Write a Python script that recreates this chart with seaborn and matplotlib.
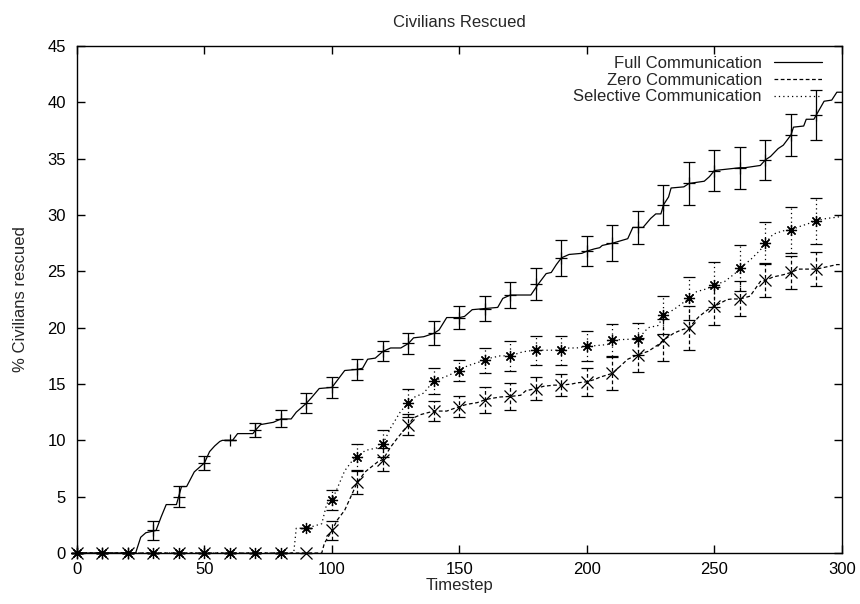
import matplotlib
matplotlib.use("Agg")
import matplotlib.pyplot as plt
import seaborn as sns

# step curves (timestep, % civilians rescued)
full_t = [0, 23, 25, 27, 31, 33, 35, 39, 41, 43, 46, 48, 50, 52, 54, 56, 57, 61, 62, 63, 69, 70,
          72, 77, 80, 84, 86, 87, 90, 92, 95, 100, 102, 105, 110, 112, 114, 117, 120, 123, 127,
          130, 132, 136, 140, 142, 145, 150, 152, 155, 160, 165, 167, 170, 178, 181, 184, 186,
          188, 190, 193, 198, 200, 203, 205, 206, 210, 216, 218, 222, 225, 227, 229, 230, 232,
          233, 238, 240, 246, 248, 250, 260, 262, 268, 270, 272, 275, 277, 280, 281, 285, 286,
          289, 290, 293, 296, 298, 300]
full_v = [0, 0, 1.4, 1.8, 2.0, 3.2, 4.3, 4.3, 5.9, 5.9, 7.2, 7.6, 8.0, 9.0, 9.5, 9.9, 10.0, 10.0,
          10.3, 10.6, 10.6, 10.9, 11.4, 11.6, 11.9, 11.9, 12.5, 12.7, 13.3, 13.8, 14.6, 14.7, 15.3,
          16.2, 16.3, 16.4, 17.2, 17.3, 17.9, 18.2, 18.2, 18.6, 19.1, 19.2, 19.5, 19.8, 20.9, 20.9,
          21.0, 21.6, 21.7, 21.8, 22.6, 22.9, 22.9, 23.9, 24.8, 24.9, 25.6, 26.2, 26.5, 26.6, 26.8,
          27.0, 27.1, 27.3, 27.5, 27.9, 28.9, 28.9, 29.7, 30.1, 30.1, 30.9, 31.6, 32.4, 32.5, 32.8,
          33.0, 33.4, 33.95, 34.2, 34.2, 34.4, 34.9, 35.2, 35.9, 36.2, 37.1, 37.8, 37.9, 38.5,
          38.5, 38.9, 40.1, 40.2, 40.9, 40.9]

zero_t = [0, 96, 97, 100, 102, 105, 108, 110, 113, 118, 120, 123, 126, 129, 130, 132, 135, 140,
          145, 150, 153, 157, 160, 162, 166, 170, 174, 176, 180, 183, 187, 190, 194, 196, 200,
          203, 205, 210, 216, 220, 224, 228, 230, 234, 237, 240, 244, 248, 250, 255, 257, 260,
          264, 268, 270, 273, 277, 280, 283, 287, 290, 294, 298, 300]
zero_v = [0, 0, 0.85, 2.0, 2.9, 3.8, 5.3, 6.3, 7.2, 8.1, 8.3, 9.4, 10.3, 11.1, 11.4, 12.0, 12.3,
          12.6, 12.6, 13.0, 13.2, 13.35, 13.6, 13.7, 13.85, 13.9, 14.0, 14.4, 14.6, 14.8, 14.9,
          14.9, 15.0, 15.1, 15.2, 15.4, 15.6, 15.95, 17.2, 17.6, 17.9, 18.5, 18.9, 19.5, 19.8,
          20.0, 21.0, 21.7, 21.9, 22.5, 22.55, 22.55, 22.8, 24.1, 24.2, 24.5, 24.7, 24.9, 25.2,
          25.2, 25.2, 25.4, 25.6, 25.6]

sel_t = [0, 85, 86, 90, 96, 98, 100, 102, 105, 109, 110, 113, 119, 120, 123, 127, 130, 132, 136,
         140, 144, 150, 153, 157, 160, 162, 166, 170, 174, 176, 180, 190, 193, 196, 200, 203,
         208, 210, 214, 220, 224, 228, 230, 234, 237, 240, 243, 247, 250, 254, 258, 260, 264,
         268, 270, 273, 277, 280, 283, 287, 290, 294, 298, 300]
sel_v = [0, 0, 2.2, 2.2, 2.6, 4.4, 4.7, 5.7, 7.3, 8.5, 8.5, 9.1, 9.4, 9.7, 11.1, 12.6, 13.3, 13.8,
         14.2, 15.3, 15.6, 16.2, 16.6, 16.9, 17.1, 17.3, 17.5, 17.5, 17.8, 17.9, 18.0, 18.0, 18.2,
         18.2, 18.35, 18.4, 18.5, 18.9, 18.95, 19.0, 20.0, 20.2, 21.1, 21.6, 22.1, 22.6, 23.2,
         23.45, 23.8, 24.1, 24.8, 25.3, 26.0, 26.9, 27.5, 28.3, 28.6, 28.65, 28.95, 29.25, 29.5,
         29.7, 29.8, 29.9]

# sampled every 10 timesteps, with error bars (half width)
mark_t = list(range(0, 300, 10))
full_mean = [0, 0, 0, 2.0, 5.0, 8.0, 10.0, 10.9, 11.9, 13.3, 14.7, 16.3, 17.9, 18.6, 19.5, 20.9,
             21.7, 22.9, 23.9, 26.2, 26.8, 27.5, 28.9, 30.9, 32.8, 33.95, 34.2, 34.9, 37.1, 38.9]
full_err = [0, 0, 0, 0.8, 0.95, 0.65, 0, 0.6, 0.75, 0.9, 0.95, 0.9, 0.9, 0.95, 1.05, 1.05, 1.1,
            1.15, 1.4, 1.6, 1.35, 1.6, 1.5, 1.8, 1.9, 1.8, 1.85, 1.75, 1.9, 2.2]
zero_mean = [0, 0, 0, 0, 0, 0, 0, 0, 0, 0, 2.0, 6.3, 8.3, 11.4, 12.6, 13.0, 13.6, 13.9, 14.6, 14.9,
             15.2, 15.95, 17.6, 18.9, 20.0, 21.9, 22.55, 24.2, 24.9, 25.2]
zero_err = [0, 0, 0, 0, 0, 0, 0, 0, 0, 0, 0.8, 1.05, 1.05, 0.95, 0.9, 0.9, 1.15, 1.2, 1.05, 1.0,
            1.25, 1.45, 1.5, 1.9, 1.95, 1.7, 1.55, 1.5, 1.45, 1.5]
sel_mean = [0, 0, 0, 0, 0, 0, 0, 0, 0, 2.2, 4.7, 8.5, 9.7, 13.3, 15.3, 16.2, 17.1, 17.5, 18.0, 18.0,
            18.35, 18.9, 19.0, 21.1, 22.6, 23.8, 25.3, 27.5, 28.65, 29.5]
sel_err = [0, 0, 0, 0, 0, 0, 0, 0, 0, 0, 0.85, 1.2, 1.2, 1.25, 1.15, 0.95, 1.1, 1.3, 1.3, 1.3,
           1.35, 1.45, 1.45, 1.7, 1.9, 2.0, 2.05, 1.85, 2.05, 2.05]

sns.set_theme(style="ticks")
plt.rcParams['font.family'] = ['Liberation Sans', 'DejaVu Sans']
plt.rcParams['axes.linewidth'] = 1.0

fig = plt.figure(figsize=(8.6, 6.04), dpi=100)
ax = fig.add_axes([0.0895, 0.0844, 0.8895, 0.8394])

series = [
    ("Full Communication", full_t, full_v, full_mean, full_err, "-", "+"),
    ("Zero Communication", zero_t, zero_v, zero_mean, zero_err, (0, (3, 2)), "x"),
    ("Selective Communication", sel_t, sel_v, sel_mean, sel_err, (0, (1, 2.5)), (8, 2, 0)),
]

for name, t, v, m, e, ls, mk in series:
    sns.lineplot(x=t, y=v, ax=ax, color="black", linestyle=ls, linewidth=0.9,
                 estimator=None, label=name)
    eb = ax.errorbar(mark_t, m, yerr=e, fmt="none", ecolor="black", elinewidth=0.9,
                     capsize=4, capthick=0.9, clip_on=False)
    eb.lines[2][0].set_linestyle(ls)
    ax.plot(mark_t, m, linestyle="none", marker=mk, markersize=8, markeredgewidth=0.9,
            color="black", clip_on=False)

ax.set_xlim(0, 300)
ax.set_ylim(0, 45)
ax.set_xticks(range(0, 301, 50))
ax.set_yticks(range(0, 46, 5))
ax.tick_params(direction="in", length=5.5, width=1, top=True, right=True,
               labelsize=12, colors="black")
ax.tick_params(axis="x", pad=6.5)
ax.tick_params(axis="y", pad=8)
for s in ax.spines.values():
    s.set_color("black")

ax.set_title("Civilians Rescued", fontsize=12, pad=13.5)
ax.set_xlabel("Timestep", fontsize=12, labelpad=1)
ax.set_ylabel("% Civilians rescued", fontsize=12, labelpad=14)

ax.legend(loc="upper right", bbox_to_anchor=(1 - 20 / 765, 1 - 10 / 507), frameon=False,
          markerfirst=False, handlelength=2.9, handletextpad=0.7, labelspacing=0.1,
          borderpad=0, borderaxespad=0, fontsize=12)

plt.savefig("out.png", dpi=100)
